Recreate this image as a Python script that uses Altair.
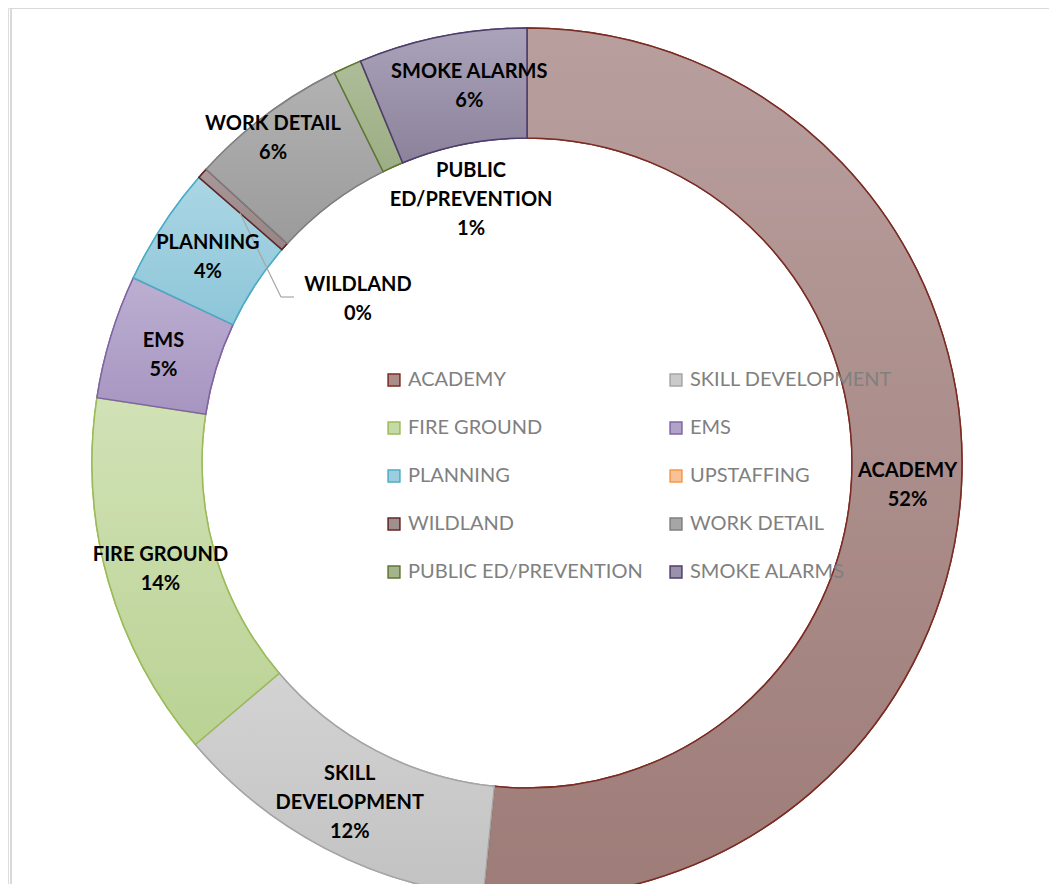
import altair as alt
import pandas as pd

# ---- data ----
categories = ["ACADEMY", "SKILL DEVELOPMENT", "FIRE GROUND", "EMS", "PLANNING",
              "UPSTAFFING", "WILDLAND", "WORK DETAIL", "PUBLIC ED/PREVENTION", "SMOKE ALARMS"]
values = [51.6, 12.2, 13.6, 4.6, 4.4, 0.0, 0.4, 5.9, 1.05, 6.25]
label_names = ["ACADEMY", "SKILL\nDEVELOPMENT", "FIRE GROUND", "EMS", "PLANNING",
               "", "WILDLAND", "WORK DETAIL", "PUBLIC\nED/PREVENTION", "SMOKE ALARMS"]

# ---- styles ----
fill_top = ["#b89f9e", "#d3d3d3", "#d1e2b6", "#bbafd1", "#abd6e4",
            "#fbc6a2", "#a89899", "#b2b2b2", "#adbd98", "#aaa3ba"]
fill_bot = ["#9e7c78", "#c2c2c2", "#bad294", "#a795c1", "#8dc6d9",
            "#f9b98c", "#978585", "#9b9b9b", "#9cae85", "#8c829b"]
fill_mid = ["#ab8d8a", "#cacaca", "#c5daa5", "#b1a2c9", "#9ccedf",
            "#fac097", "#a08f8f", "#a6a6a6", "#a4b58e", "#9a92aa"]
stroke_cols = ["#7b2b22", "#a5a5a5", "#9bbb59", "#8064a2", "#4bacc6",
               "#f79646", "#632523", "#7f7f7f", "#5f7530", "#4f3d6b"]

# layout (chart coordinates; page offset 8px)
CX, CY = 519, 455
R_OUT, R_IN = 435, 325
LH = 29
label_r = [381, 381, 381, 380, 381, 0, 236, 413, 271, 383]
label_dx = [0, 0, 0, 0, 0, 0, 7, -6, 56, 17]
label_dy = [3, 3, 3, 3, 3, 0, -6, 6, -16, -1]
W, H = 1041, 876
FONT = "Lato"

df = pd.DataFrame({
    "idx": list(range(len(categories))),
    "category": categories,
    "value": values,
    "lname": label_names,
})

base = alt.Chart(df).transform_joinaggregate(
    total="sum(value)"
).transform_window(
    cum="sum(value)", sort=[alt.SortField("idx", order="ascending")], frame=[None, 0]
).transform_calculate(
    t0="(datum.cum - datum.value) / datum.total * 2 * PI",
    t1="datum.cum / datum.total * 2 * PI",
    tm="(datum.cum - datum.value / 2) / datum.total * 2 * PI",
    label="datum.lname + '\\n' + round(datum.value / datum.total * 100) + '%'",
)

legend = alt.Legend(
    title=None, orient="none", legendX=376, legendY=362, columns=2, direction="horizontal",
    columnPadding=23, rowPadding=28, symbolType="square", symbolSize=140,
    symbolStrokeWidth=1.5, labelFont=FONT, labelFontSize=20, labelColor="#808080",
    labelOffset=4, labelLimit=400, symbolOpacity=1,
)

base_arc = base.transform_filter("datum.value > 0").mark_arc(
    innerRadius=R_IN, outerRadius=R_OUT, strokeWidth=1.5
).encode(
    theta=alt.Theta("t0:Q", scale=None),
    theta2="t1:Q",
    x=alt.value(CX), y=alt.value(CY),
    fill=alt.Fill("category:N", scale=alt.Scale(domain=categories, range=fill_mid), legend=legend),
    stroke=alt.Stroke("category:N", scale=alt.Scale(domain=categories, range=stroke_cols), legend=legend),
)

layers = [base_arc]

for i, cat in enumerate(categories):
    if values[i] <= 0:
        continue
    grad = alt.LinearGradient(
        gradient="linear",
        stops=[alt.GradientStop(color=fill_top[i], offset=0),
               alt.GradientStop(color=fill_bot[i], offset=1)],
        x1=0, x2=0, y1=0, y2=1,
    )
    layers.append(
        base.transform_filter(alt.datum.category == cat).mark_arc(
            innerRadius=R_IN, outerRadius=R_OUT, fill=grad, stroke=stroke_cols[i], strokeWidth=1.5
        ).encode(
            theta=alt.Theta("t0:Q", scale=None), theta2="t1:Q",
            x=alt.value(CX), y=alt.value(CY),
        )
    )

# leader line for WILDLAND
leader = base.transform_filter(alt.datum.category == "WILDLAND")
layers.append(leader.mark_rule(color="#a6a6a6", strokeWidth=1.2).encode(
    x=alt.value(232), y=alt.value(205), x2=alt.value(273), y2=alt.value(289)))
layers.append(leader.mark_rule(color="#a6a6a6", strokeWidth=1.2).encode(
    x=alt.value(273), y=alt.value(289), x2=alt.value(286), y2=alt.value(289)))

for i, cat in enumerate(categories):
    if values[i] <= 0:
        continue
    n_lines = label_names[i].count("\n") + 2
    layers.append(
        base.transform_filter(alt.datum.category == cat).mark_text(
            font=FONT, fontSize=20, fontWeight="bold", color="#000000",
            lineBreak="\n", lineHeight=LH, align="center", baseline="middle",
            radius=label_r[i], dx=label_dx[i], dy=label_dy[i] - (n_lines - 1) * LH / 2,
        ).encode(
            theta=alt.Theta("tm:Q", scale=None),
            x=alt.value(CX), y=alt.value(CY),
            text="label:N",
        )
    )

# frame lines (top and left)
layers.append(base.transform_filter(alt.datum.idx == 0).mark_rule(color="#d9d9d9", strokeWidth=2).encode(
    x=alt.value(3), x2=alt.value(W), y=alt.value(0)))
layers.append(base.transform_filter(alt.datum.idx == 0).mark_rule(color="#d9d9d9", strokeWidth=2).encode(
    x=alt.value(3), y=alt.value(0), y2=alt.value(H)))

chart = alt.layer(*layers).properties(
    width=W, height=H, autosize=alt.AutoSizeParams(type="none"), padding=0,
).configure_view(stroke=None).configure(background="#ffffff")

chart.save("out.html", embed_options={"renderer": "svg", "actions": False})
